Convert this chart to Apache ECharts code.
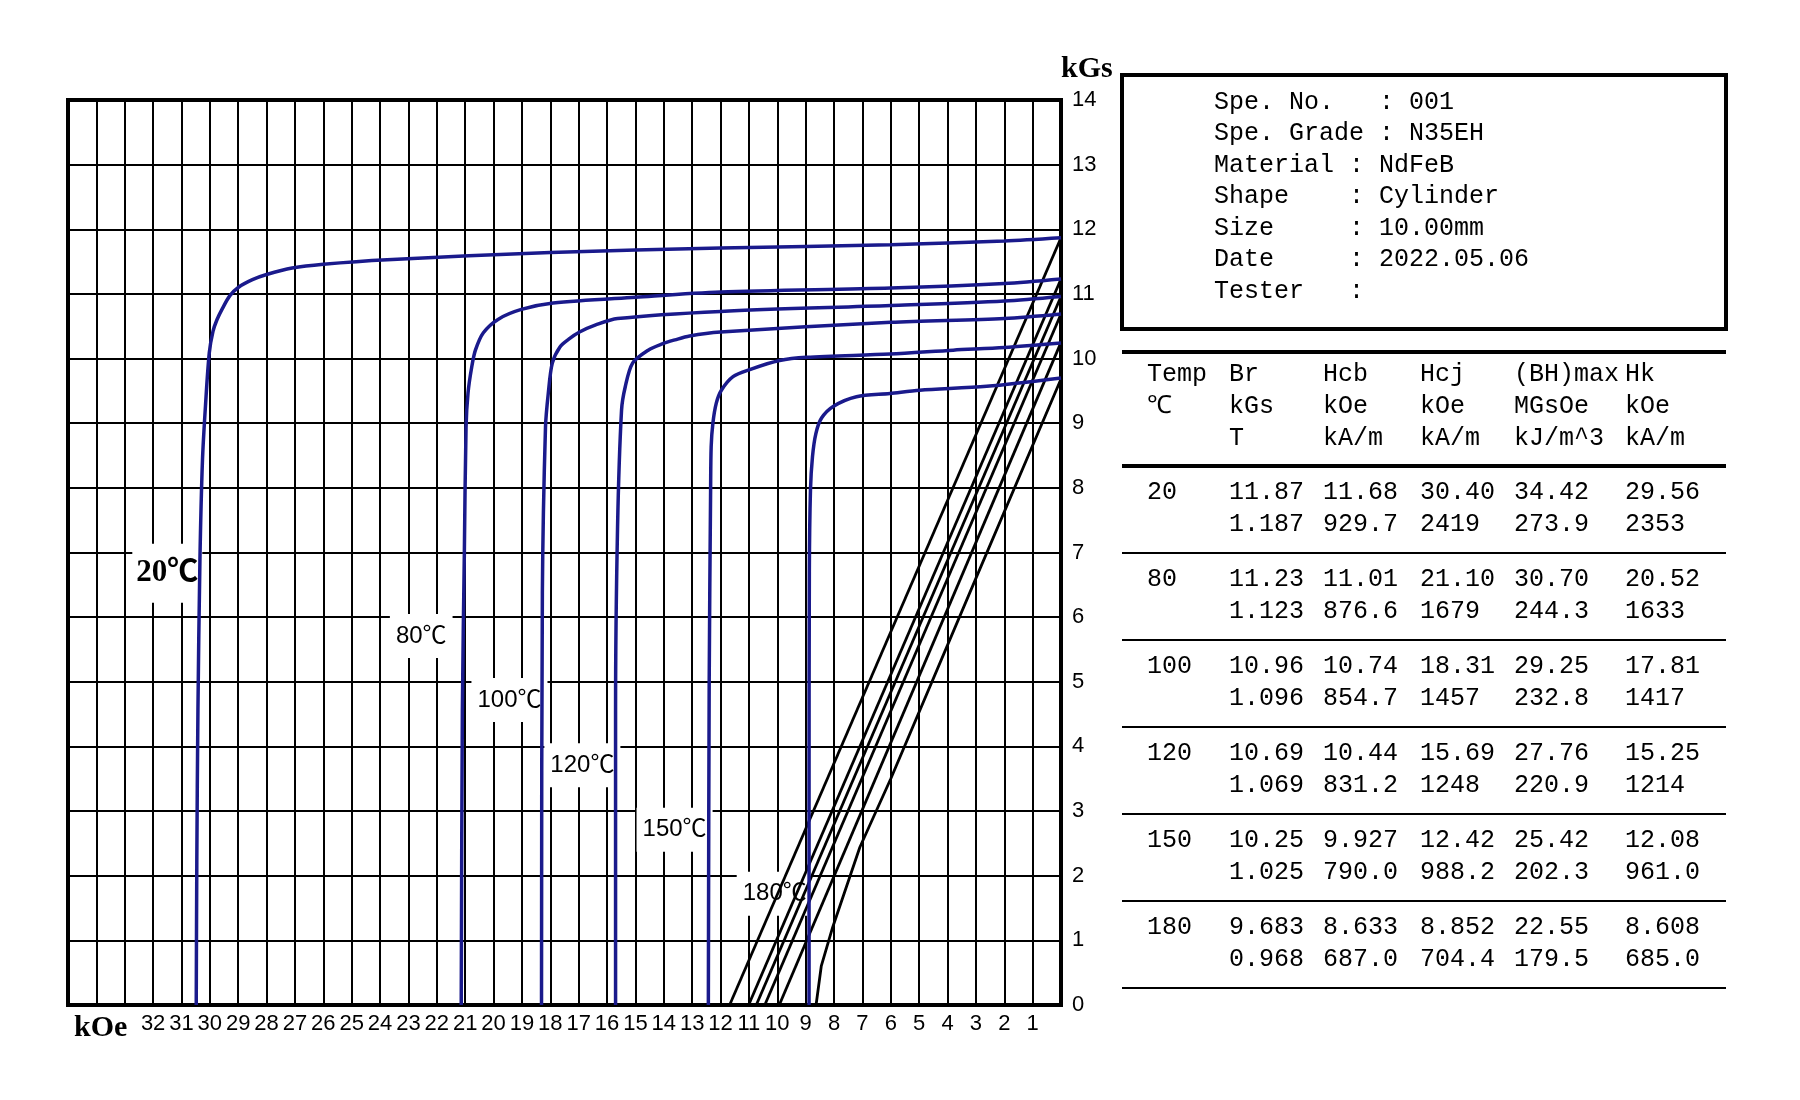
<!DOCTYPE html>
<html lang="en">
<head>
<meta charset="UTF-8">
<title>Demagnetization curves N35EH</title>
<script src="https://cdn.jsdelivr.net/npm/echarts@6/dist/echarts.min.js"></script>
<style>
    body { margin: 0; background: #fff; }
    #chart { width: 1800px; height: 1100px; }
</style>
</head>
<body>
<div id="chart"></div>
<script>
// ---- data ----
var temps = ['20', '80', '100', '120', '150', '180'];

// intrinsic (J-H) curves, [H kOe, J kGs]
var j20  = [[0,11.87],[2,11.82],[6,11.76],[12,11.71],[18,11.64],[23.75,11.53],[26,11.46],[27.1,11.40],[28,11.30],[28.5,11.22],[29.0,11.10],[29.3,10.97],[29.55,10.78],[29.75,10.60],[29.89,10.42],[30.02,10.09],[30.15,9.3],[30.26,8.43],[30.35,6.88],[30.42,4.56],[30.46,2.2],[30.48,0]];
var j80  = [[0,11.23],[2,11.16],[6,11.09],[12,11.03],[15,10.95],[17.9,10.86],[19.02,10.76],[19.83,10.61],[20.36,10.40],[20.64,10.13],[20.77,9.87],[20.9,9.47],[20.97,8.94],[21.03,6.99],[21.1,4.56],[21.14,0]];
var j100 = [[0,10.96],[2,10.89],[6,10.82],[12,10.73],[15.63,10.62],[16.4,10.52],[16.97,10.41],[17.35,10.30],[17.66,10.18],[17.93,9.93],[18.07,9.47],[18.17,8.94],[18.28,6.37],[18.31,0]];
var j120 = [[0,10.69],[2,10.62],[6,10.56],[12,10.41],[13.09,10.35],[13.6,10.29],[14.1,10.22],[14.55,10.13],[15.1,9.93],[15.36,9.56],[15.49,9.2],[15.63,7.39],[15.7,4.56],[15.7,0]];
var j150 = [[0,10.24],[2,10.17],[3.8,10.13],[6.03,10.07],[8.97,10.02],[9.92,9.97],[10.97,9.83],[11.56,9.72],[11.97,9.51],[12.15,9.31],[12.27,9.0],[12.33,8.64],[12.35,7.97],[12.4,5],[12.43,0]];
var j180 = [[0,9.70],[2.62,9.57],[4.98,9.51],[6.03,9.46],[7.21,9.41],[8.03,9.26],[8.44,9.08],[8.64,8.84],[8.76,8.48],[8.83,7.97],[8.87,6.7],[8.88,3],[8.88,0]];
var jCurves = [j20, j80, j100, j120, j150, j180];

// normal (B-H) lines, [H kOe, B kGs]
var b20  = [[0,11.87],[11.68,0]];
var b80  = [[0,11.23],[11.01,0]];
var b100 = [[0,10.96],[10.74,0]];
var b120 = [[0,10.69],[10.44,0]];
var b150 = [[0,10.25],[9.93,0]];
var b180 = [[0,9.683],[3,6.6],[6,3.5],[7.09,2.44],[8.05,1.2],[8.45,0.6],[8.633,0]];
var bLines = [b20, b80, b100, b120, b150, b180];

// where the temperature tags sit, [H, B]
var tagAt = [[31.5,6.68],[22.55,5.71],[19.44,4.72],[16.87,3.71],[13.62,2.71],[10.09,1.72]];

var xTickLabels = ['1','2','3','4','5','6','7','8','9','10','11','12','13','14','15','16',
                   '17','18','19','20','21','22','23','24','25','26','27','28','29','30','31','32'];
var yTickLabels = ['0','1','2','3','4','5','6','7','8','9','10','11','12','13','14'];

var specLines = [
    'Spe. No.   : 001',
    'Spe. Grade : N35EH',
    'Material : NdFeB',
    'Shape    : Cylinder',
    'Size     : 10.00mm',
    'Date     : 2022.05.06',
    'Tester   :'
];

var headRow1 = ['Temp', 'Br', 'Hcb', 'Hcj', '(BH)max', 'Hk'];
var headRow2 = ['℃', 'kGs', 'kOe', 'kOe', 'MGsOe', 'kOe'];
var headRow3 = ['', 'T', 'kA/m', 'kA/m', 'kJ/m^3', 'kA/m'];

var brKGs   = ['11.87', '11.23', '10.96', '10.69', '10.25', '9.683'];
var hcbKOe  = ['11.68', '11.01', '10.74', '10.44', '9.927', '8.633'];
var hcjKOe  = ['30.40', '21.10', '18.31', '15.69', '12.42', '8.852'];
var bhMGsOe = ['34.42', '30.70', '29.25', '27.76', '25.42', '22.55'];
var hkKOe   = ['29.56', '20.52', '17.81', '15.25', '12.08', '8.608'];
var brT     = ['1.187', '1.123', '1.096', '1.069', '1.025', '0.968'];
var hcbKAm  = ['929.7', '876.6', '854.7', '831.2', '790.0', '687.0'];
var hcjKAm  = ['2419', '1679', '1457', '1248', '988.2', '704.4'];
var bhKJ    = ['273.9', '244.3', '232.8', '220.9', '202.3', '179.5'];
var hkKAm   = ['2353', '1633', '1417', '1214', '961.0', '685.0'];

// ---- chart ----
var chart = echarts.init(document.getElementById('chart'));

var BLUE = '#1a1a8c';
var MONO = '25px "Liberation Mono", "DejaVu Sans Mono", monospace';
var NARROW = '"Liberation Sans Narrow", "Liberation Sans", "Noto Sans CJK SC", sans-serif';

var series = [];
bLines.forEach(function (pts, i) {
    series.push({
        type: 'line', name: 'B ' + temps[i], data: pts,
        showSymbol: false, z: 3, silent: true,
        lineStyle: { color: '#000', width: 2.8 }
    });
});
jCurves.forEach(function (pts, i) {
    series.push({
        type: 'line', name: 'J ' + temps[i], data: pts,
        showSymbol: false, smooth: 0.3, z: 4, silent: true,
        lineStyle: { color: BLUE, width: 3.5 }
    });
});
// temperature tags
var tagData = tagAt.map(function (p, i) { return { value: p, name: temps[i] + '℃' }; });
tagData[0].label = {
    fontFamily: '"Liberation Serif", "Noto Sans CJK SC", serif',
    fontWeight: 'bold', fontSize: 31, padding: [14, 4]
};
series.push({
    type: 'scatter', z: 2, silent: true, symbolSize: 1,
    itemStyle: { opacity: 1, color: 'rgba(0,0,0,0)' },
    data: tagData,
    label: {
        show: true, position: 'inside',
        formatter: function (p) { return p.name; },
        backgroundColor: '#fff', padding: [10, 6],
        color: '#000', opacity: 1, fontSize: 24, fontFamily: NARROW
    },
    labelLayout: { hideOverlap: false }
});

// side panel: spec box + result table
var els = [];
els.push({ type: 'rect', shape: { x: 1122, y: 75, width: 604, height: 254 },
           style: { fill: 'none', stroke: '#000', lineWidth: 4 } });
specLines.forEach(function (s, i) {
    els.push({ type: 'text', x: 1214, y: 102 + i * 31.5,
               style: { text: s, font: MONO, fill: '#000', verticalAlign: 'middle' } });
});

var colX = [1147, 1229, 1323, 1420, 1514, 1625];
function hline(y, w) {
    els.push({ type: 'line', shape: { x1: 1122, y1: y, x2: 1726, y2: y },
               style: { stroke: '#000', lineWidth: w } });
}
function textRow(cells, y) {
    cells.forEach(function (c, k) {
        if (!c) return;
        els.push({ type: 'text', x: colX[k], y: y,
                   style: { text: c, font: MONO, fill: '#000', verticalAlign: 'middle' } });
    });
}
hline(352, 4);
textRow(headRow1, 374);
textRow(headRow2, 406);
textRow(headRow3, 438);
hline(466, 4);
temps.forEach(function (t, i) {
    var y0 = 466 + i * 87;
    textRow([t, brKGs[i], hcbKOe[i], hcjKOe[i], bhMGsOe[i], hkKOe[i]], y0 + 26);
    textRow(['', brT[i], hcbKAm[i], hcjKAm[i], bhKJ[i], hkKAm[i]], y0 + 58);
    hline(y0 + 87, 2);
});
// x-axis unit
els.push({ type: 'text', x: 74, y: 1028,
           style: { text: 'kOe', font: 'bold 30px "Liberation Serif", serif', fill: '#000', verticalAlign: 'middle' } });

chart.setOption({
    animation: false,
    backgroundColor: '#fff',
    grid: { left: 68, right: 739, top: 100, bottom: 95, show: true,
            borderColor: '#000', borderWidth: 4, backgroundColor: '#fff' },
    xAxis: {
        type: 'value', min: 0, max: 35, interval: 1, inverse: true,
        axisLine: { show: true, lineStyle: { color: '#000', width: 4 } },
        axisTick: { show: false },
        splitLine: { show: true, lineStyle: { color: '#000', width: 2 } },
        axisLabel: {
            margin: 8, color: '#000', fontSize: 22, fontFamily: NARROW,
            showMinLabel: true, showMaxLabel: true,
            formatter: function (v) { return xTickLabels.indexOf(String(v)) >= 0 ? String(v) : ''; }
        }
    },
    yAxis: {
        type: 'value', position: 'right', min: 0, max: 14, interval: 1,
        name: 'kGs', nameLocation: 'end', nameGap: 16,
        nameTextStyle: { color: '#000', fontSize: 30, fontWeight: 'bold',
                         fontFamily: '"Liberation Serif", serif', align: 'left' },
        axisLine: { show: true, lineStyle: { color: '#000', width: 4 } },
        axisTick: { show: false },
        splitLine: { show: true, lineStyle: { color: '#000', width: 2 } },
        axisLabel: {
            margin: 11, color: '#000', fontSize: 22, fontFamily: NARROW,
            showMinLabel: true, showMaxLabel: true,
            formatter: function (v) { return yTickLabels.indexOf(String(v)) >= 0 ? String(v) : ''; }
        }
    },
    series: series,
    graphic: { elements: els }
});
</script>
</body>
</html>
